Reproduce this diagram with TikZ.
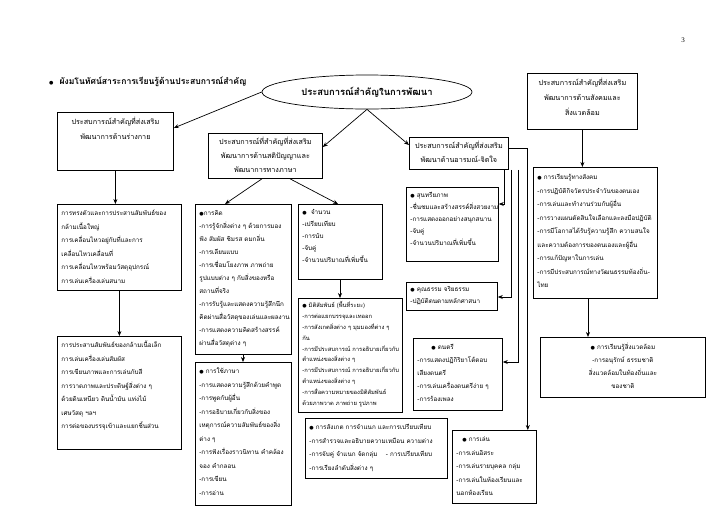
\documentclass[tikz,border=0pt]{standalone}
\usepackage{fontspec}
\setmainfont{Liberation Serif}
\newfontfamily\thai[Script=Thai]{Loma}
\newfontfamily\dvs{DejaVu Sans}
\usetikzlibrary{calc,shapes.geometric,arrows.meta}
\newcommand\bul{{\dvs\fontsize{5}{5}\selectfont ●}}
\tikzset{
  bx/.style={draw, line width=0.8pt, inner sep=0pt, anchor=north west},
  arr/.style={line width=0.7pt, -{Stealth[length=5pt,width=4pt]}},
  ln/.style={line width=0.7pt}
}
% name, x, y, w, h, pad, skip, text
\newcommand\Lbox[8]{\node[bx] (#1) at (#2,#3) {\parbox[c][#5pt][t]{#4pt}{\thai\fontsize{6.3}{#7}\selectfont\vspace*{#6pt}\hspace*{4pt}\begin{tabular}[t]{@{}l@{}}#8\end{tabular}}};}
\newcommand\Lboxs[9]{\node[bx] (#1) at (#2,#3) {\parbox[c][#5pt][t]{#4pt}{\thai\fontsize{#9}{#7}\selectfont\vspace*{#6pt}\hspace*{4pt}\begin{tabular}[t]{@{}l@{}}#8\end{tabular}}};}
\newcommand\Cbox[8]{\node[bx] (#1) at (#2,#3) {\parbox[c][#5pt][t]{#4pt}{\thai\fontsize{7.2}{#7}\selectfont\centering\vspace*{#6pt}\begin{tabular}[t]{@{}c@{}}#8\end{tabular}\par}};}
\newcommand\Sbox[8]{\node[bx] (#1) at (#2,#3) {\parbox[c][#5pt][t]{#4pt}{\thai\fontsize{6.3}{#7}\selectfont\centering\vspace*{#6pt}\begin{tabular}[t]{@{}c@{}}#8\end{tabular}\par}};}
\begin{document}
\begin{tikzpicture}[x=1pt,y=-1pt]
\useasboundingbox (0,0) rectangle (728,515);
\node (pg) at (683,40) {\fontsize{7}{8}\selectfont 3};
\node[anchor=west, inner sep=0pt] (head) at (49,82) {\bul\hspace{6pt}\thai\fontsize{8.6}{10}\selectfont\bfseries ผังมโนทัศน์สาระการเรียนรู้ด้านประสบการณ์สำคัญ};
\node[draw, ellipse, line width=0.7pt, minimum width=210pt, minimum height=34pt, inner sep=0pt] (el) at (367,92) {\thai\fontsize{9.4}{10}\selectfont\bfseries ประสบการณ์สำคัญในการพัฒนา};

% left column
\Cbox{b1}{57}{112}{116}{58}{2}{15}{ประสบการณ์สำคัญที่ส่งเสริม\\พัฒนาการด้านร่างกาย}
\Lbox{b2}{57}{204}{124}{86}{2}{13.5}{การทรงตัวและการประสานสัมพันธ์ของ\\กล้ามเนื้อใหญ่\\การเคลื่อนไหวอยู่กับที่และการ\\เคลื่อนไหวเคลื่อนที่\\การเคลื่อนไหวพร้อมวัสดุอุปกรณ์\\การเล่นเครื่องเล่นสนาม}
\Lbox{b8}{57}{336}{124}{113}{2}{13.5}{การประสานสัมพันธ์ของกล้ามเนื้อเล็ก\\การเล่นเครื่องเล่นสัมผัส\\การเขียนภาพและการเล่นกับสี\\การวาดภาพและประดิษฐ์สิ่งต่าง ๆ\\ด้วยดินเหนียว ดินน้ำมัน แท่งไม้\\เศษวัสดุ ฯลฯ\\การต่อของบรรจุเข้าและแยกชิ้นส่วน}

% intellect column
\Cbox{b3}{208}{133}{114}{45}{1}{14}{ประสบการณ์ที่สำคัญที่ส่งเสริม\\พัฒนาการด้านสติปัญญาและ\\พัฒนาการทางภาษา}
\Lbox{b9}{195}{204}{96}{150}{2}{13}{\bul การคิด\\-การรู้จักสิ่งต่าง ๆ ด้วยการมอง\\ฟัง สัมผัส ชิมรส ดมกลิ่น\\-การเลียนแบบ\\-การเชื่อมโยงภาพ ภาพถ่าย\\รูปแบบต่าง ๆ กับสิ่งของหรือ\\สถานที่จริง\\-การรับรู้และแสดงความรู้สึกนึก\\คิดผ่านสื่อวัสดุของเล่นและผลงาน\\-การแสดงความคิดสร้างสรรค์\\ผ่านสื่อวัสดุต่าง ๆ}
\Lbox{b11}{195}{362}{96}{143}{2}{13.5}{\bul\ การใช้ภาษา\\-การแสดงความรู้สึกด้วยคำพูด\\-การพูดกับผู้อื่น\\-การอธิบายเกี่ยวกับสิ่งของ\\เหตุการณ์ความสัมพันธ์ของสิ่ง\\ต่าง ๆ\\-การฟังเรื่องราวนิทาน คำคล้อง\\จอง คำกลอน\\-การเขียน\\-การอ่าน}
\Lbox{b10}{298}{204}{84}{75}{2}{12}{\bul\ \ จำนวน\\-เปรียบเทียบ\\-การนับ\\-จับคู่\\-จำนวนปริมาณที่เพิ่มขึ้น}
\Lboxs{b12}{298}{298}{104}{114}{2}{10.8}{\bul\ มิติสัมพันธ์ (พื้นที่ระยะ)\\-การต่อแยกบรรจุและเทออก\\-การสังเกตสิ่งต่าง ๆ มุมมองที่ต่าง ๆ\\กัน\\-การมีประสบการณ์ การอธิบายเกี่ยวกับ\\ตำแหน่งของสิ่งต่าง ๆ\\-การมีประสบการณ์ การอธิบายเกี่ยวกับ\\ตำแหน่งของสิ่งต่าง ๆ\\-การสื่อความหมายของมิติสัมพันธ์\\ด้วยภาพวาด ภาพถ่าย รูปภาพ}{5.8}
\Lbox{b13}{305}{418}{142}{60}{2}{13.5}{\bul\ การสังเกต การจำแนก และการเปรียบเทียบ\\-การสำรวจและอธิบายความเหมือน ความต่าง\\-การจับคู่ จำแนก จัดกลุ่ม \quad - การเปรียบเทียบ\\-การเรียงลำดับสิ่งต่าง ๆ}

% emotion column
\Cbox{b4}{409}{137}{99}{32}{1}{14}{ประสบการณ์สำคัญที่ส่งเสริม\\พัฒนาด้านอารมณ์-จิตใจ}
\Lbox{b14}{406}{187}{92}{74}{2}{12}{\bul\ สุนทรียภาพ\\-ชื่นชมและสร้างสรรค์สิ่งสวยงาม\\-การแสดงออกอย่างสนุกสนาน\\-จับคู่\\-จำนวนปริมาณที่เพิ่มขึ้น}
\Lbox{b15}{406}{282}{91}{28}{1}{12}{\bul\ คุณธรรม จริยธรรม\\-ปฏิบัติตนตามหลักศาสนา}
\Lbox{b16}{413}{338}{89}{72}{2}{13}{\hspace*{14pt}\bul\ ดนตรี\\-การแสดงปฏิกิริยาโต้ตอบ\\เสียงดนตรี\\-การเล่นเครื่องดนตรีง่าย ๆ\\-การร้องเพลง}
\Lbox{b17}{452}{430}{84}{73}{2}{13.5}{\hspace*{6pt}\bul\ การเล่น\\-การเล่นอิสระ\\-การเล่นรายบุคคล กลุ่ม\\-การเล่นในห้องเรียนและ\\นอกห้องเรียน}

% social column
\Cbox{b5}{527}{73}{110}{56}{2}{15}{ประสบการณ์สำคัญที่ส่งเสริม\\พัฒนาการด้านสังคมและ\\สิ่งแวดล้อม}
\Lbox{b6}{533}{167}{124}{131}{3}{13.5}{\bul\ การเรียนรู้ทางสังคม\\-การปฏิบัติกิจวัตรประจำวันของตนเอง\\-การเล่นและทำงานร่วมกับผู้อื่น\\-การวางแผนตัดสินใจเลือกและลงมือปฏิบัติ\\-การมีโอกาสได้รับรู้ความรู้สึก ความสนใจ\\และความต้องการของตนเองและผู้อื่น\\-การแก้ปัญหาในการเล่น\\-การมีประสบการณ์ทางวัฒนธรรมท้องถิ่น-\\ไทย}
\Sbox{b7}{540}{337}{165}{60}{3}{13}{\bul\ การเรียนรู้สิ่งแวดล้อม\\-การอนุรักษ์ ธรรมชาติ\\สิ่งแวดล้อมในท้องถิ่นและ\\ของชาติ}

% connectors
\coordinate (b1in) at ($(b1.north east)+(0,16)$);
\draw[arr] (el.west) -- (b1in);
\coordinate (b3in) at ($(b3.north east)+(0,14)$);
\coordinate (b4in) at ($(b4.north west)+(0,8)$);
\draw[arr] (el.south) -- (b3in);
\draw[arr] (el.south) -- (b4in);
\draw[arr] (b1.south) -- (b1.south |- b2.north);
\draw[arr] (b2.south) -- (b2.south |- b8.north);
\coordinate (b3l) at ($(b3.south west)+(54,0)$);
\coordinate (b3r) at ($(b3.south west)+(82,0)$);
\coordinate (b9in) at ($(b9.north west)+(30,0)$);
\coordinate (b10in) at ($(b10.north west)+(40,0)$);
\draw[arr] (b3l) -- (b9in);
\draw[arr] (b3r) -- (b10in);
\coordinate (b9out) at ($(b9.south west)+(48,0)$);
\draw[arr] (b9out) -- (b9out |- b11.north);
\coordinate (b10out) at ($(b10.south west)+(42,0)$);
\draw[arr] (b10out) -- (b10out |- b12.north);
\draw[arr] (b5.south) -- (b5.south |- b6.north);
\coordinate (b6out) at ($(b6.south west)+(55,0)$);
\draw[arr] (b6out) -- (b6out |- b7.north);
% emotion branches
\coordinate (e1) at ($(b4.south west)+(95,0)$);
\coordinate (e2) at ($(b4.south west)+(102,0)$);
\coordinate (e3) at ($(b4.south west)+(109,0)$);
\coordinate (e4s) at ($(b4.north east)+(0,11)$);
\coordinate (e4) at ($(e4s)+(19,0)$);
\coordinate (t14) at ($(b14.north east)+(0,17)$);
\coordinate (t15) at ($(b15.north east)+(0,15)$);
\coordinate (t16) at ($(b16.north east)+(0,24)$);
\draw[arr] (e1) |- (t14);
\draw[arr] (e2) |- (t15);
\draw[arr] (e3) |- (t16);
\draw[arr] (e4s) -- (e4) -- (e4 |- b17.north);
\end{tikzpicture}
\end{document}
